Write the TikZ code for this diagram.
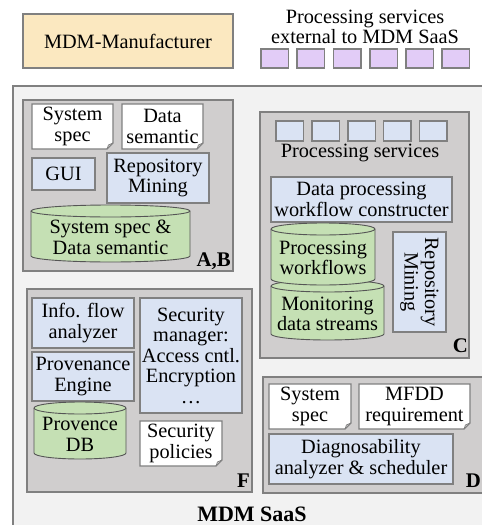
\documentclass[tikz,border=0pt]{standalone}
\usepackage{fontspec}
\setmainfont{Liberation Serif}
\definecolor{outerfill}{HTML}{F2F2F2}
\definecolor{subfill}{HTML}{D0CECE}
\definecolor{bluefill}{HTML}{DAE3F3}
\definecolor{greenfill}{HTML}{C5E0B4}
\definecolor{manfill}{HTML}{FBE8C0}
\definecolor{purplefill}{HTML}{E2CCF7}
\definecolor{edge}{HTML}{808080}
\definecolor{darkedge}{HTML}{555555}
\tikzset{
  every node/.style={font=\fontsize{20.3}{20.5}\selectfont, align=center, inner sep=0pt},
  subbox/.style={draw=edge, fill=subfill, line width=1.2pt},
  bluebox/.style={draw=edge, fill=bluefill, line width=1.1pt, rectangle},
  manbox/.style={draw=edge, fill=manfill, line width=1.1pt, rectangle},
  purplesq/.style={draw=edge, fill=purplefill, line width=1.1pt, rectangle},
  docbox/.style={draw=edge, fill=white, line width=1.1pt},
  cylbody/.style={draw=darkedge, fill=greenfill, line width=0.9pt},
  lbl/.style={font=\fontsize{20.8}{21}\selectfont\bfseries},
}
\newcommand\bx[7]{\node[#1,minimum width={(#5-#3)*1pt},minimum height={(#6-#4)*1pt}] (#2) at ({(#3+#5)/2},{(#4+#6)/2}) {#7};}
\newcommand\dc[6]{%
  \path[docbox] (#2,#3) -- (#4,#3) -- (#4,#5-6) -- (#4-6,#5) -- (#2,#5) -- cycle;
  \draw[draw=edge, line width=0.8pt] (#4-6,#5) -- (#4-4.5,#5-4) -- (#4,#5-6);
  \node (#1) at ({(#2+#4)/2},{(#3+#5)/2}) {#6};}
\newcommand\cy[6]{%
  \pgfmathsetmacro\rx{(#4-#2)/2}
  \path[cylbody] (#2,#5-6) arc[start angle=180,end angle=360,x radius=\rx pt,y radius=6pt] -- (#4,#3+6) arc[start angle=0,end angle=180,x radius=\rx pt,y radius=6pt] -- cycle;
  \draw[draw=darkedge, line width=0.9pt] (#4,#3+6) arc[start angle=0,end angle=-180,x radius=\rx pt,y radius=6pt];
  \node (#1) at ({(#2+#4)/2},{(#3+#5)/2+4}) {#6};}
\begin{document}
\begin{tikzpicture}[x=1pt,y=-1pt]
\useasboundingbox[fill=white] (0,0) rectangle (482,525);
\clip (0,0) rectangle (482,525);
% top
\bx{manbox}{manuf}{23}{14}{233}{68}{MDM-Manufacturer}
\node (exttext) at (365,27) {Processing services\\external to MDM SaaS};
\foreach \i/\xx in {1/261,2/297,3/333.5,4/370,5/406,6/442}{
  \bx{purplesq}{ext\i}{\xx}{49}{\xx+27.5}{68}{}
}
% outer
\path[draw=edge, fill=outerfill, line width=1.2pt] (13,540) -- (13,86) -- (500,86);
\path[fill=outerfill] (14,87) rectangle (500,540);
% A,B
\path[subbox] (23,100) rectangle (233,271);
\dc{absys}{32}{104}{113}{149}{System\\spec}
\dc{absem}{122}{104}{203}{149}{Data\\semantic}
\bx{bluebox}{gui}{32}{158}{95}{190}{GUI}
\bx{bluebox}{abrep}{107}{153}{209}{203}{Repository\\Mining}
\cy{abdb}{31}{205}{190}{262}{System spec \&\\Data semantic}
\node[lbl, anchor=base east] (lab) at (231,266) {A,B};
% C
\path[subbox] (260,112) rectangle (469,358);
\foreach \i/\xx in {1/276,2/312,3/348,4/383.5,5/419.5}{
  \bx{bluebox}{ps\i}{\xx}{121}{\xx+27.5}{141}{}
}
\node (pstext) at (360,153) {Processing services};
\bx{bluebox}{dpwc}{271}{177}{452}{222}{Data processing\\workflow constructer}
\cy{mon}{271}{280}{384}{340}{Monitoring\\data streams}
\cy{pwf}{271}{223}{375}{285}{Processing\\workflows}
\node[bluebox, rotate=-90, minimum width=100pt, minimum height=53pt] (crep) at (419.5,282) {Repository\\Mining};
\node[lbl, anchor=base east] (lc) at (468,352) {C};
% D
\path[subbox] (263,377) rectangle (500,493);
\dc{dsys}{269}{384}{351}{429}{System\\spec}
\dc{dmfdd}{359}{384}{470}{429}{MFDD\\requirement}
\bx{bluebox}{diag}{269}{434}{453}{484}{Diagnosability\\analyzer \& scheduler}
\node[lbl, anchor=base east] (ld) at (481,487) {D};
% F
\path[subbox] (27,289) rectangle (252,492);
\bx{bluebox}{info}{32}{298}{134}{348}{Info. flow\\analyzer}
\bx{bluebox}{prov}{32}{352}{134}{401}{Provenance\\Engine}
\cy{provdb}{34}{402}{126}{459}{Provence\\DB}
\bx{bluebox}{secm}{140}{298}{242}{413}{Security\\manager:\\Access cntl.\\Encryption\\…}
\dc{secp}{140}{421}{222}{466}{Security\\policies}
\node[lbl, anchor=base east] (lf) at (250,487) {F};
% title
\node[lbl, font=\fontsize{22}{22}\selectfont\bfseries, anchor=base] (saas) at (252,521) {MDM SaaS};
\end{tikzpicture}
\end{document}
